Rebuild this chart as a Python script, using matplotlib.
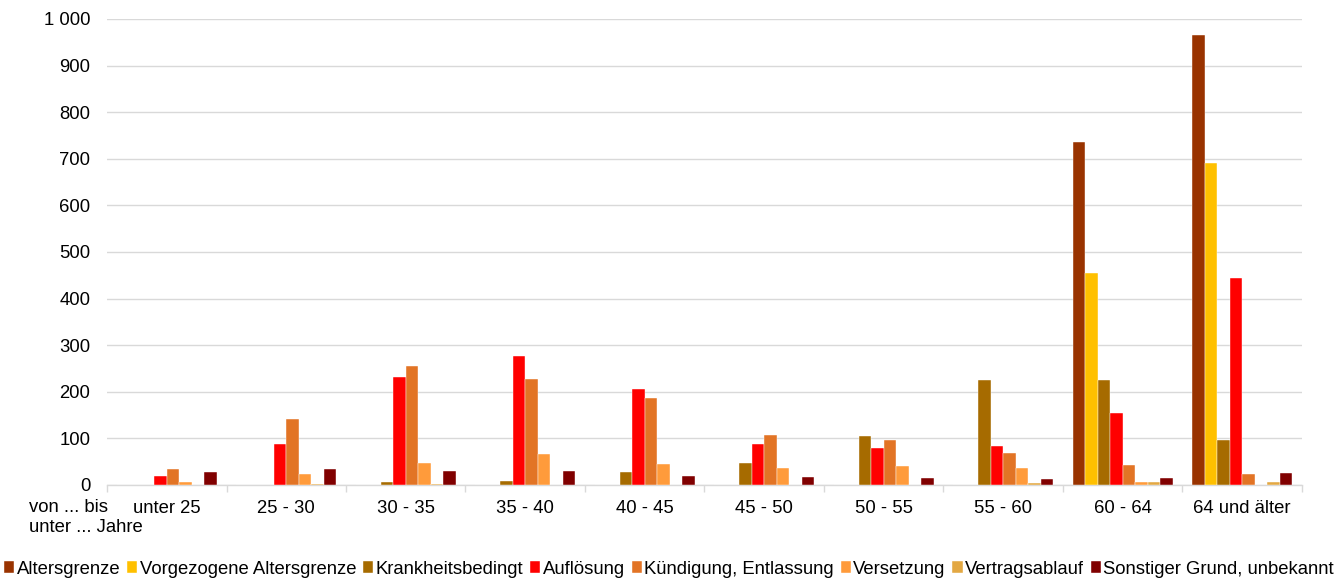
import numpy as np
import matplotlib.pyplot as plt
from matplotlib.ticker import FuncFormatter

plt.rcParams['font.family'] = ['Liberation Sans', 'DejaVu Sans']

categories = ['unter 25', '25 - 30', '30 - 35', '35 - 40', '40 - 45',
              '45 - 50', '50 - 55', '55 - 60', '60 - 64', '64 und älter']

series_names = ['Altersgrenze', 'Vorgezogene Altersgrenze', 'Krankheitsbedingt',
                'Auflösung', 'Kündigung, Entlassung', 'Versetzung',
                'Vertragsablauf', 'Sonstiger Grund, unbekannt']

altersgrenze = [0, 0, 0, 0, 0, 0, 0, 0, 736, 966]
vorgezogen = [0, 0, 0, 0, 0, 0, 0, 0, 455, 691]
krankheit = [0, 1, 6, 8, 27, 47, 106, 225, 226, 96]
aufloesung = [20, 87, 232, 276, 205, 87, 79, 83, 155, 444]
kuendigung = [34, 141, 256, 227, 187, 108, 97, 69, 42, 23]
versetzung = [6, 24, 48, 66, 44, 36, 41, 36, 7, 0]
vertrag = [1, 2, 2, 1, 0, 0, 0, 4, 7, 6]
sonstiger = [27, 34, 29, 30, 19, 17, 14, 12, 14, 26]

colors = ['#993300', '#FFC000', '#A66B00', '#FF0000',
          '#E27425', '#FF9B3B', '#E3A843', '#800000']

data = [altersgrenze, vorgezogen, krankheit, aufloesung,
        kuendigung, versetzung, vertrag, sonstiger]

fs = 13.3
fig = plt.figure(figsize=(13.38, 5.8), dpi=100)
ax = fig.add_axes([0.08, 0.1638, 0.893, 0.8035])

x = np.arange(len(categories))
w = 0.1046
for k, (vals, c, name) in enumerate(zip(data, colors, series_names)):
    ax.bar(x + (k - 3.5) * w, vals, w, color=c, label=name,
           edgecolor='white', linewidth=0.3, zorder=3)

ax.set_xlim(-0.5, len(categories) - 0.5)
ax.set_ylim(0, 1000)
ax.set_yticks(range(0, 1001, 100))
ax.yaxis.set_major_formatter(FuncFormatter(lambda v, p: f'{int(v):,}'.replace(',', ' ')))
ax.grid(axis='y', color='#D9D9D9', linewidth=1, zorder=0)
ax.tick_params(axis='y', length=0, labelsize=fs, pad=12)

# boundaries as major ticks, labels on minor ticks
ax.set_xticks(np.arange(-0.5, len(categories) + 0.5, 1))
ax.set_xticklabels([])
ax.tick_params(axis='x', which='major', length=5, color='#D9D9D9', width=1)
ax.set_xticks(x, minor=True)
ax.set_xticklabels(categories, minor=True)
ax.tick_params(axis='x', which='minor', length=0, labelsize=fs, pad=11)

for s in ['top', 'right', 'left']:
    ax.spines[s].set_visible(False)
ax.spines['bottom'].set_color('#D9D9D9')
ax.spines['bottom'].set_linewidth(1)

# axis caption, two lines
fig.text(29 / 1338, 1 - 507 / 580, 'von ... bis', fontsize=fs, ha='left', va='center')
fig.text(29 / 1338, 1 - 528 / 580, 'unter ... Jahre', fontsize=fs, ha='left', va='center')

fig.legend(loc='lower center', bbox_to_anchor=(0.5, -0.018), ncol=8, frameon=False,
           fontsize=fs, handlelength=0.55, handleheight=0.55, handletextpad=0.12,
           columnspacing=0.38, borderpad=0.2)

fig.savefig('out.png', dpi=100)
